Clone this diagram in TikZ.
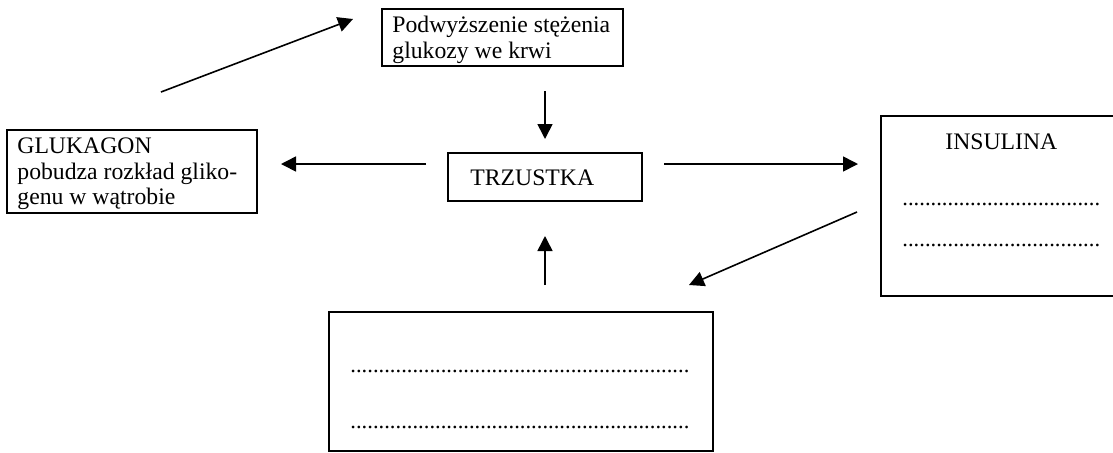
\documentclass[tikz,border=0pt]{standalone}
\usepackage{fontspec}
\setmainfont{Liberation Serif}
\usetikzlibrary{arrows.meta}
\begin{document}
\begin{tikzpicture}[x=0.5pt,y=-0.5pt,
  box/.style={draw,line width=1.1pt},
  txt/.style={inner sep=0pt,anchor=base west,font=\fontsize{11.85}{13.5}\selectfont},
  dots/.style={inner sep=0pt,anchor=base west,font=\fontsize{11.3}{13.5}\selectfont},
  arr/.style={line width=0.8pt,-{Triangle[length=7.5pt,width=7.5pt]}}]
\useasboundingbox (0,0) rectangle (1113,452);
\clip (0,0) rectangle (1113,452);
% boxes
\draw[box] (382,9) rectangle (623,66);
\draw[box] (7,130) rectangle (257,213);
\draw[box] (448,153) rectangle (642,201);
\draw[box] (881,116) rectangle (1118,296);
\draw[box] (329,312) rectangle (713,451);
% texts
\node[txt] (p1) at (392,32) {Podwyższenie stężenia};
\node[txt] (p2) at (392,58) {glukozy we krwi};
\node[txt] (g1) at (17,153) {GLUKAGON};
\node[txt] (g2) at (17,179) {pobudza rozkład gliko-};
\node[txt] (g3) at (17,204) {genu w wątrobie};
\node[txt] (tr) at (470,185) {TRZUSTKA};
\node[txt] (in) at (945,149) {INSULINA};
\node[dots] (d1) at (902,205) {...................................};
\node[dots] (d2) at (902,246) {...................................};
\node[dots] (d3) at (350,372) {............................................................};
\node[dots] (d4) at (350,428) {............................................................};
% arrow end points
\coordinate (a1s) at (161,92);  \coordinate (a1e) at (353,19);
\coordinate (a2s) at (545,91);  \coordinate (a2e) at (545,139);
\coordinate (a3s) at (426,164); \coordinate (a3e) at (281,164);
\coordinate (a4s) at (664,164); \coordinate (a4e) at (858,164);
\coordinate (a5s) at (857,212); \coordinate (a5e) at (689,285);
\coordinate (a6s) at (545,285); \coordinate (a6e) at (545,236);
\draw[arr] (a1s) -- (a1e);
\draw[arr] (a2s) -- (a2e);
\draw[arr] (a3s) -- (a3e);
\draw[arr] (a4s) -- (a4e);
\draw[arr] (a5s) -- (a5e);
\draw[arr] (a6s) -- (a6e);
\end{tikzpicture}
\end{document}
